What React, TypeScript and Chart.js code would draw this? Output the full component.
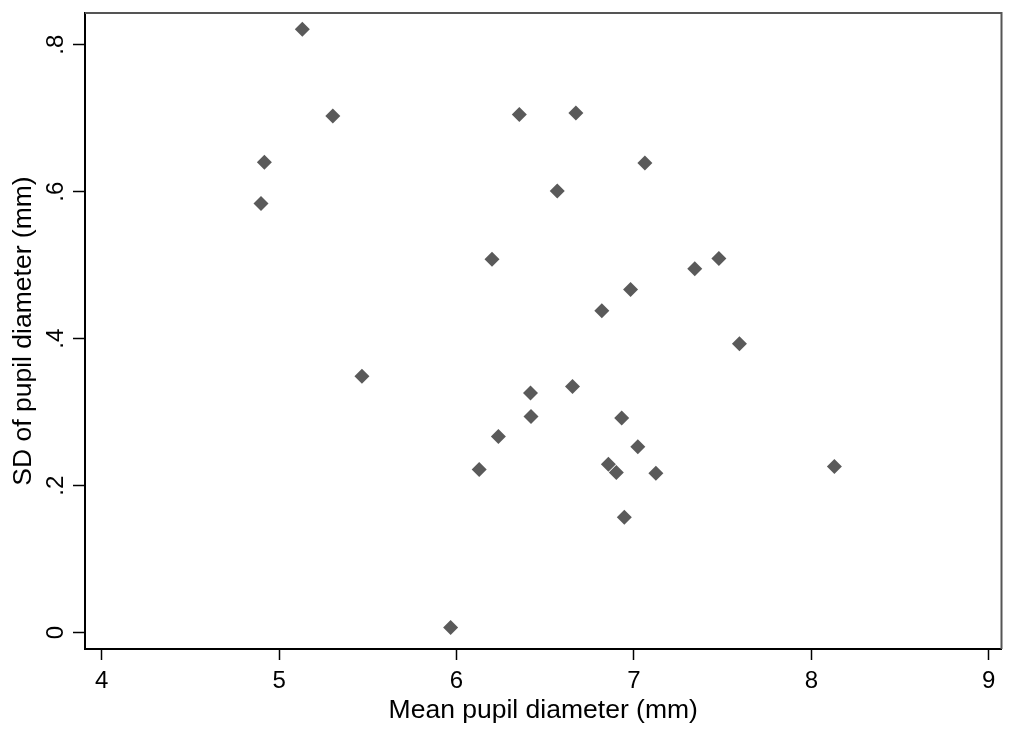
import React, { useEffect, useRef } from 'react';
import { Chart, registerables } from 'chart.js';

Chart.register(...registerables);

// Mean pupil diameter (mm) for each subject
const meanDiameter = [
  5.131, 4.917, 4.898, 5.303, 5.467, 5.967, 6.128, 6.200, 6.236, 6.354,
  6.417, 6.420, 6.568, 6.673, 6.654, 6.819, 6.856, 6.901, 6.931, 6.946,
  6.981, 7.022, 7.062, 7.124, 7.343, 7.479, 7.595, 8.130,
];
// SD of pupil diameter (mm) for each subject
const sdDiameter = [
  0.821, 0.640, 0.584, 0.703, 0.349, 0.007, 0.222, 0.508, 0.267, 0.705,
  0.326, 0.294, 0.601, 0.707, 0.335, 0.438, 0.229, 0.218, 0.292, 0.157,
  0.467, 0.253, 0.639, 0.217, 0.495, 0.509, 0.393, 0.226,
];

const xTicks = [4, 5, 6, 7, 8, 9];
const xTickLabels = ['4', '5', '6', '7', '8', '9'];
const yTicks = [0, 0.2, 0.4, 0.6, 0.8];
const yTickLabels = ['0', '.2', '.4', '.6', '.8'];

const xRange = [3.906, 9.072];
const yRange = [-0.0222, 0.8431];

const FONT = 'Liberation Sans, Arial, Helvetica, sans-serif';

const frameBorder = {
  id: 'frameBorder',
  beforeDatasetsDraw(chart: any) {
    const { ctx, chartArea } = chart;
    const { left, top, right, bottom } = chartArea;
    ctx.save();
    ctx.strokeStyle = '#555555';
    ctx.lineWidth = 2;
    ctx.beginPath();
    ctx.moveTo(left, top);
    ctx.lineTo(right, top);
    ctx.lineTo(right, bottom);
    ctx.stroke();
    ctx.restore();
  },
};

export default function App() {
  const canvasRef = useRef<HTMLCanvasElement | null>(null);

  useEffect(() => {
    const canvas = canvasRef.current;
    if (!canvas) return;
    const points = meanDiameter.map((x, i) => ({ x, y: sdDiameter[i] }));
    const chart = new Chart(canvas, {
      type: 'scatter',
      data: {
        datasets: [
          {
            data: points,
            pointStyle: 'rectRot',
            pointRadius: 7.5,
            pointHoverRadius: 7.5,
            backgroundColor: '#5a5a5a',
            borderColor: '#5a5a5a',
            borderWidth: 0,
          },
        ],
      },
      options: {
        responsive: false,
        animation: false,
        devicePixelRatio: 1,
        events: [],
        layout: { padding: { top: 13, right: 4, left: 0, bottom: 0 } },
        plugins: {
          legend: { display: false },
          tooltip: { enabled: false },
        },
        scales: {
          x: {
            type: 'linear',
            position: 'bottom',
            min: xRange[0],
            max: xRange[1],
            afterBuildTicks: (s: any) => {
              s.ticks = xTicks.map((v) => ({ value: v }));
            },
            afterFit: (s: any) => {
              s.height = 82;
              s.paddingLeft = 0;
              s.paddingRight = 0;
              s.paddingTop = 0;
              s.paddingBottom = 0;
            },
            grid: {
              display: true,
              drawOnChartArea: false,
              drawTicks: true,
              tickLength: 11,
              tickWidth: 1.5,
              tickColor: '#000000',
              color: '#000000',
            },
            border: { display: true, color: '#000000', width: 2 },
            ticks: {
              padding: 7,
              autoSkip: false,
              minRotation: 0,
              maxRotation: 0,
              color: '#000000',
              font: { family: FONT, size: 24 },
              callback: (v: any) => {
                const i = xTicks.indexOf(Number(v));
                return i >= 0 ? xTickLabels[i] : '';
              },
            },
            title: {
              display: true,
              text: 'Mean pupil diameter (mm)',
              color: '#000000',
              font: { family: FONT, size: 26.5 },
              padding: { top: 0, bottom: 4 },
            },
          },
          y: {
            type: 'linear',
            position: 'left',
            min: yRange[0],
            max: yRange[1],
            afterBuildTicks: (s: any) => {
              s.ticks = yTicks.map((v) => ({ value: v }));
            },
            afterFit: (s: any) => {
              s.width = 85;
              s.paddingLeft = 0;
              s.paddingRight = 0;
              s.paddingTop = 0;
              s.paddingBottom = 0;
            },
            grid: {
              display: true,
              drawOnChartArea: false,
              drawTicks: true,
              tickLength: 12,
              tickWidth: 1.5,
              tickColor: '#000000',
              color: '#000000',
            },
            border: { display: true, color: '#000000', width: 2 },
            ticks: {
              padding: 7,
              autoSkip: false,
              minRotation: 90,
              maxRotation: 90,
              crossAlign: 'center',
              color: '#000000',
              font: { family: FONT, size: 24 },
              callback: (v: any) => {
                const i = yTicks.indexOf(Number(v));
                return i >= 0 ? yTickLabels[i] : '';
              },
            },
            title: {
              display: true,
              text: 'SD of pupil diameter (mm)',
              color: '#000000',
              font: { family: FONT, size: 26.5 },
              padding: { top: 8, bottom: 0 },
            },
          },
        },
      },
      plugins: [frameBorder],
    } as any);
    return () => {
      chart.destroy();
    };
  }, []);

  return (
    <div style={{ position: 'absolute', left: 0, top: 0, width: 1009, height: 731, background: '#ffffff' }}>
      <canvas ref={canvasRef} width={1009} height={731} style={{ display: 'block' }} />
    </div>
  );
}
